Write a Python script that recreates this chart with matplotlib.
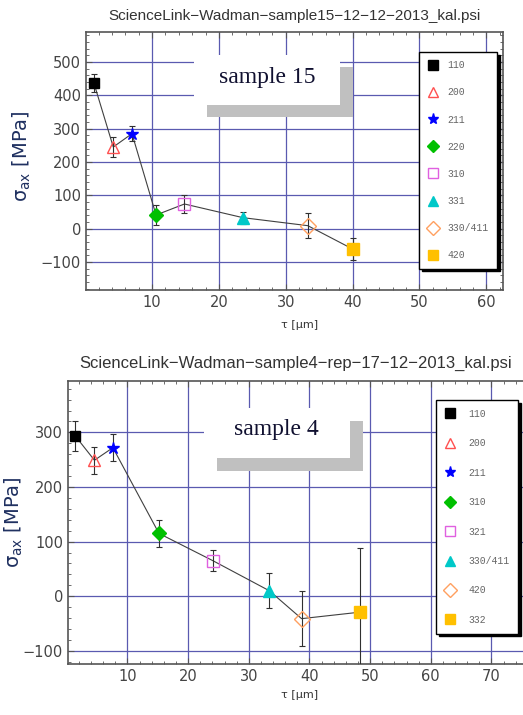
import matplotlib
matplotlib.use("Agg")
import matplotlib.pyplot as plt
from matplotlib.lines import Line2D
from matplotlib.patches import Rectangle
from matplotlib.ticker import MultipleLocator, FuncFormatter

# ---------------- data ----------------
title15 = "ScienceLink\u2212Wadman\u2212sample15\u221212\u221212\u22122013_kal.psi"
labels15 = ['110', '200', '211', '220', '310', '331', '330/411', '420']
tau15 = [1.3, 4.2, 7.0, 10.6, 14.85, 23.6, 33.3, 40.0]
sig15 = [437, 245, 285, 41, 74, 33, 9, -61]
err15 = [27, 30, 23, 31, 28, 18, 38, 33]

title4 = "ScienceLink\u2212Wadman\u2212sample4\u2212rep\u221217\u221212\u22122013_kal.psi"
labels4 = ['110', '200', '211', '310', '321', '330/411', '420', '332']
tau4 = [1.43, 4.56, 7.6, 15.2, 24.1, 33.4, 38.7, 48.4]
sig4 = [293, 249, 272, 115, 65, 10, -41, -29]
err4 = [27, 25, 25, 24, 19, 32, 50, 118]

# marker styles per legend slot
styles = [
    dict(marker='s', color='black', mfc='black', ms=7.5),
    dict(marker='^', color='#ff5050', mfc='none', ms=8, mew=1.0),
    dict(marker='*', color='#0000ff', mfc='#0000ff', ms=9),
    dict(marker='D', color='#00c000', mfc='#00c000', ms=7),
    dict(marker='s', color='#e060e0', mfc='none', ms=8, mew=1.0),
    dict(marker='^', color='#00c8c8', mfc='#00c8c8', ms=8),
    dict(marker='D', color='#ffa060', mfc='none', ms=8, mew=1.0),
    dict(marker='s', color='#ffc000', mfc='#ffc000', ms=8),
]

GRID = '#5a5ab0'
SPINE = '#555555'
TICKC = '#444444'

fig = plt.figure(figsize=(5.23, 7.15), dpi=100)


def hide_zero(v, pos):
    return '' if abs(v) < 1e-9 else f'{v:g}'


def make_panel(rect, xlim, ylim, tau, sig, err, labels, title, title_xy, title_fs,
               label_xy, xlabel_xy, box, text_xy, sample_txt,
               leg_anchor, leg_spacing, leg_pad, leg_textpad):
    ax = fig.add_axes(rect)
    ax.set_xlim(*xlim)
    ax.set_ylim(*ylim)
    ax.xaxis.set_major_locator(MultipleLocator(10))
    ax.xaxis.set_minor_locator(MultipleLocator(2))
    ax.xaxis.set_major_formatter(FuncFormatter(hide_zero))
    ax.yaxis.set_major_locator(MultipleLocator(100))
    ax.yaxis.set_minor_locator(MultipleLocator(20))
    ax.grid(True, which='major', color=GRID, lw=0.9, zorder=0)
    ax.set_axisbelow(True)
    ax.tick_params(which='both', direction='in', top=True, right=True,
                   color=SPINE, labelcolor=TICKC, labelsize=10.5)
    ax.tick_params(which='major', length=4, width=0.8)
    ax.tick_params(which='minor', length=2, width=0.6)
    for s in ax.spines.values():
        s.set_color(SPINE)
        s.set_linewidth(1.2)

    # connecting line + error bars
    ax.plot(tau, sig, color='#404040', lw=0.8, zorder=3)
    ax.errorbar(tau, sig, yerr=err, fmt='none', ecolor='#303030',
                elinewidth=0.8, capsize=2, capthick=0.8, zorder=3)
    handles = []
    for x, y, st in zip(tau, sig, styles):
        ax.plot([x], [y], ls='none', zorder=4, **st)
        hs = dict(st)
        hs['ms'] = st['ms'] - 1
        handles.append(Line2D([], [], ls='none', **hs))

    # sample label box with shadow
    bx0, by0, bw, bh, sx, sy = box
    ax.add_patch(Rectangle((bx0 + sx, by0 - sy), bw, bh, transform=ax.transAxes,
                           facecolor='#c0c0c0', edgecolor='none', zorder=2))
    ax.add_patch(Rectangle((bx0, by0), bw, bh, transform=ax.transAxes,
                           facecolor='white', edgecolor='none', zorder=2.1))
    ax.text(text_xy[0], text_xy[1], sample_txt, transform=ax.transAxes,
            ha='center', va='center', fontsize=17, family='Liberation Serif',
            color='#101030', zorder=2.2)

    leg = ax.legend(handles, labels, loc='upper left', bbox_to_anchor=leg_anchor,
                    bbox_transform=fig.transFigure, borderaxespad=0,
                    fancybox=False, framealpha=1, edgecolor='black',
                    prop=dict(family='Liberation Mono', size=7),
                    labelspacing=leg_spacing, handlelength=1.15,
                    handletextpad=leg_textpad, borderpad=leg_pad,
                    shadow=dict(color='black', alpha=1, ox=2, oy=-2))
    leg.get_frame().set_linewidth(1.0)
    for t in leg.get_texts():
        t.set_color('#666666')
    leg.set_zorder(5)

    ax.set_ylabel('\u03c3$_{\\rm ax}$ [MPa]', fontsize=14, color='#1f3060')
    ax.yaxis.set_label_coords(*label_xy)
    ax.set_xlabel('\u03c4 [\u03bcm]', fontsize=8, color='#333333')
    ax.xaxis.set_label_coords(*xlabel_xy)

    fig.text(title_xy[0], title_xy[1], title, ha='center', va='center',
             fontsize=title_fs, family='Liberation Sans', color='#333333')
    return ax


W, H = 523.0, 715.0

# top panel (sample 15)
make_panel(rect=[86 / W, 1 - 290 / H, 417 / W, 258 / H],
           xlim=(0.12, 62.5), ylim=(-184, 590),
           tau=tau15, sig=sig15, err=err15, labels=labels15,
           title=title15, title_xy=(294 / W, 1 - 16 / H), title_fs=11,
           label_xy=(-0.127, 0.52), xlabel_xy=(0.513, -0.116),
           box=(0.259, 0.717, 0.350, 0.194, 0.031, 0.046),
           text_xy=(0.435, 0.825), sample_txt='sample 15',
           leg_anchor=(419 / W, 1 - 52 / H), leg_spacing=1.76,
           leg_pad=0.86, leg_textpad=0.9)

# bottom panel (sample 4)
make_panel(rect=[68 / W, 1 - 664 / H, 472 / W, 283.3 / H],
           xlim=(0.2, 78), ylim=(-124, 394.6),
           tau=tau4, sig=sig4, err=err4, labels=labels4,
           title=title4, title_xy=(296 / W, 1 - 363 / H), title_fs=12,
           label_xy=(-0.091, 0.5), xlabel_xy=(0.49, -0.092),
           box=(0.288, 0.727, 0.309, 0.177, 0.028, 0.046),
           text_xy=(0.441, 0.826), sample_txt='sample 4',
           leg_anchor=(436 / W, 1 - 400 / H), leg_spacing=2.0,
           leg_pad=0.9, leg_textpad=1.3)

fig.savefig('out.png', dpi=100)
